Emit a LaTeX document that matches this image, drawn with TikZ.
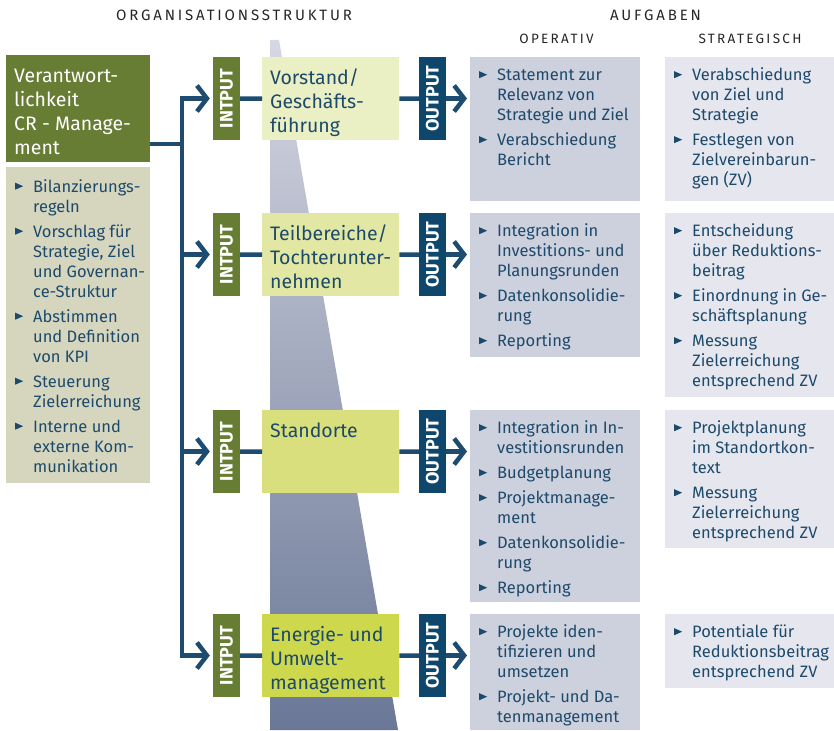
\documentclass[tikz,border=0pt]{standalone}
\usepackage{fontspec}
\setmainfont{Fira Sans}
\usetikzlibrary{arrows.meta}

\definecolor{txtblue}{HTML}{1D4A6B}
\definecolor{lineblue}{HTML}{1E4C71}
\definecolor{tagblue}{HTML}{0E466C}
\definecolor{tagolive}{HTML}{667D33}
\definecolor{crbeige}{HTML}{D6D6BF}
\definecolor{opgray}{HTML}{CDD0DD}
\definecolor{stgray}{HTML}{E6E7EE}
\definecolor{lvlA}{HTML}{EBF0C4}
\definecolor{lvlB}{HTML}{E2E8A4}
\definecolor{lvlC}{HTML}{D9DF7D}
\definecolor{lvlD}{HTML}{CDD84D}
\definecolor{keiltop}{HTML}{D5D7E2}
\definecolor{keilbot}{HTML}{6A7796}
\definecolor{headgray}{HTML}{262626}

\tikzset{
  head/.style={text=headgray, font=\fontsize{15}{15}\selectfont\addfontfeature{LetterSpace=19}},
  subhead/.style={text=headgray, font=\fontsize{13.5}{13.5}\selectfont\addfontfeature{LetterSpace=17}},
  listbox/.style={anchor=north west, inner xsep=9pt, inner ysep=9.5pt, text=txtblue, font=\fontsize{16.5}{20}\selectfont},
  opbox/.style={listbox, fill=opgray},
  stbox/.style={listbox, fill=stgray},
  orgbox/.style={anchor=north west, inner xsep=8pt, inner ysep=10.2pt, text=txtblue, font=\fontsize{19.5}{24}\selectfont},
  tag/.style={rotate=90, minimum width=83pt, minimum height=27pt, inner sep=0pt, text=white, font=\fontsize{18}{18}\selectfont\bfseries},
  intag/.style={tag, fill=tagolive},
  outtag/.style={tag, fill=tagblue},
  flow/.style={draw=lineblue, line width=4.5pt},
  pfeil/.style={-{Straight Barb[length=10pt,width=26pt]}, shorten >=3pt}
}

\newcommand\tri{\tikz[baseline=0pt]\fill[txtblue] (0pt,2.5pt) -- (0pt,9.5pt) -- (8pt,6pt) -- cycle;}
\newcommand\itm[1]{\hangindent=18pt\hangafter=1\noindent\makebox[18pt][l]{\tri}\strut#1\par}
\newcommand\cell[3]{\makebox[#1pt][l]{\parbox[t][#2pt][t]{300pt}{\setlength{\parskip}{5pt}#3}}}

\begin{document}
\begin{tikzpicture}[x=1pt,y=-1pt]
\useasboundingbox (0,0) rectangle (834,730);

% Keil hinter der Organisationsstruktur
\shade[top color=keiltop, bottom color=keilbot] (270,40) -- (279,40) -- (398,730) -- (270,730) -- cycle;

% Ueberschriften
\node[head] (hOrg) at (234,15) {ORGANISATIONSSTRUKTUR};
\node[head] (hAuf) at (655.5,15) {AUFGABEN};
\node[subhead] (hOp) at (556.5,39) {OPERATIV};
\node[subhead] (hSt) at (750,39) {STRATEGISCH};

% CR-Management
\node[orgbox, fill=tagolive, text=white] (cr) at (6,55)
  {\cell{128}{86.6}{\strut Verantwort-\\lichkeit\\CR - Manage-\\ment}};
\node[listbox, fill=crbeige, inner ysep=11pt] (crtasks) at (6,167)
  {\cell{126}{294}{\itm{Bilanzierungs-\\regeln}\itm{Vorschlag für\\Strategie, Ziel\\und Governan-\\ce-Struktur}\itm{Abstimmen\\und Definition\\von KPI}\itm{Steuerung\\Zielerreichung}\itm{Interne und\\externe Kom-\\munikation}}};

% Organisationsebenen
\node[orgbox, fill=lvlA] (vorstand) at (262,57) {\cell{121}{62.6}{\strut Vorstand/\\Geschäfts-\\führung}};
\node[orgbox, fill=lvlB] (teil) at (262,213) {\cell{121}{62.6}{\strut Teilbereiche/\\Tochterunter-\\nehmen}};
\node[orgbox, fill=lvlC] (standorte) at (262,410) {\cell{121}{62.6}{\strut Standorte}};
\node[orgbox, fill=lvlD] (energie) at (262,614) {\cell{121}{62.6}{\strut Energie- und\\Umwelt-\\management}};

% Input / Output
\node[intag] (in1) at (226.5,98.5) {INTPUT};
\node[intag] (in2) at (226.5,254.5) {INTPUT};
\node[intag] (in3) at (226.5,451.5) {INTPUT};
\node[intag] (in4) at (226.5,655.5) {INTPUT};
\node[outtag] (out1) at (432.5,98.5) {OUTPUT};
\node[outtag] (out2) at (432.5,254.5) {OUTPUT};
\node[outtag] (out3) at (432.5,451.5) {OUTPUT};
\node[outtag] (out4) at (432.5,655.5) {OUTPUT};

% Aufgaben operativ / strategisch
\node[opbox] (op1) at (470,57) {\cell{152}{125}{\itm{Statement zur\\Relevanz von\\Strategie und Ziel}\itm{Verabschiedung\\Bericht}}};
\node[stbox] (st1) at (665,57) {\cell{151}{125}{\itm{Verabschiedung\\von Ziel und\\Strategie}\itm{Festlegen von\\Zielvereinbarun-\\gen (ZV)}}};
\node[opbox] (op2) at (470,213) {\cell{152}{125}{\itm{Integration in\\Investitions- und\\Planungsrunden}\itm{Datenkonsolidie-\\rung}\itm{Reporting}}};
\node[stbox] (st2) at (665,213) {\cell{151}{165}{\itm{Entscheidung\\über Reduktions-\\beitrag}\itm{Einordnung in Ge-\\schäftsplanung}\itm{Messung\\Zielerreichung\\entsprechend ZV}}};
\node[opbox] (op3) at (470,410) {\cell{152}{173}{\itm{Integration in In-\\vestitionsrunden}\itm{Budgetplanung}\itm{Projektmanage-\\ment}\itm{Datenkonsolidie-\\rung}\itm{Reporting}}};
\node[stbox] (st3) at (665,410) {\cell{151}{119}{\itm{Projektplanung\\im Standortkon-\\text}\itm{Messung\\Zielerreichung\\entsprechend ZV}}};
\node[opbox] (op4) at (470,614) {\cell{152}{97}{\itm{Projekte iden-\\tifizieren und\\umsetzen}\itm{Projekt- und Da-\\tenmanagement}}};
\node[stbox] (st4) at (665,614) {\cell{151}{55}{\itm{Potentiale für\\Reduktionsbeitrag\\entsprechend ZV}}};

% Verbindungen
\coordinate (trunk) at (182,144);
\draw[flow] (cr.east |- trunk) -- (trunk);
\draw[flow,pfeil] (trunk) |- (in1);
\draw[flow,pfeil] (trunk) |- (in4);
\draw[flow,pfeil] (trunk |- in2) -- (in2);
\draw[flow,pfeil] (trunk |- in3) -- (in3);
\foreach \i/\org in {1/vorstand,2/teil,3/standorte,4/energie} {
  \draw[flow] (in\i) -- (\org);
  \draw[flow] (\org) -- (out\i);
  \draw[flow,pfeil] (out\i) -- (out\i -| op\i.west);
}
\end{tikzpicture}
\end{document}
